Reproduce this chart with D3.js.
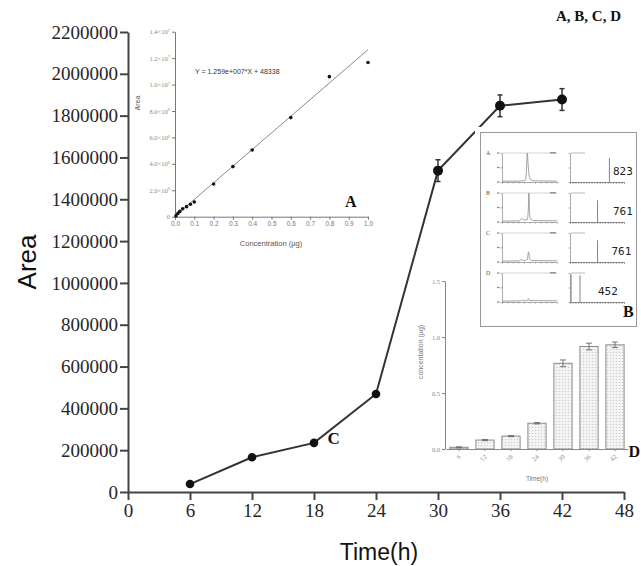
<!DOCTYPE html>
<html>
<head>
<meta charset="utf-8">
<script src="https://cdn.jsdelivr.net/npm/d3@7/dist/d3.min.js"></script>
<style>
  html, body { margin: 0; padding: 0; background: #fff; }
  svg { display: block; }
</style>
</head>
<body>
<div id="chart"></div>
<script>
d3.selection.prototype.attrs = function (map) {
  for (let key in map) this.attr(key, map[key])
  return this
}

// Main series: peak area over time

let hours = [6, 12, 18, 24, 30, 36, 42]
let areaValues = [38000, 166000, 235000, 469000, 1537000, 1847000, 1877000]
let areaErrors = [0, 0, 0, 0, 52000, 52000, 52000]
let areaTicks = [0, 200000, 400000, 600000, 800000, 1000000, 1200000, 1400000, 1600000, 1800000, 2000000, 2200000]
let hourTicks = [0, 6, 12, 18, 24, 30, 36, 42, 48]

// Inset A: standard curve

let stdConc = [0.005, 0.015, 0.025, 0.04, 0.06, 0.08, 0.1, 0.2, 0.3, 0.4, 0.6, 0.8, 1.0]
let stdArea = [60000, 250000, 400000, 600000, 760000, 940000, 1110000, 2480000, 3790000, 5050000, 7500000, 10600000, 11670000]
let fitSlope = 1.259e7
let fitIntercept = 48338
let stdAreaTicks = [0, 2e6, 4e6, 6e6, 8e6, 1e7, 1.2e7, 1.4e7]
let stdAreaTickLabels = [[`0`, ``], [`2.0×10`, `6`], [`4.0×10`, `6`], [`6.0×10`, `6`], [`8.0×10`, `6`], [`1.0×10`, `7`], [`1.2×10`, `7`], [`1.4×10`, `7`]]
let stdConcTicks = [0, 0.1, 0.2, 0.3, 0.4, 0.5, 0.6, 0.7, 0.8, 0.9, 1.0]

// Inset B: chromatograms and mass spectra

let msRows = [`A`, `B`, `C`, `D`]
let msIons = [`823`, `761`, `761`, `452`]
let chromTraces = [
  [[0, 3], [3, 3], [4.2, 5], [4.45, 40], [4.6, 100], [4.75, 60], [4.95, 20], [5.3, 7], [6, 4], [10, 3]],
  [[0, 3], [3.2, 4], [3.6, 12], [3.9, 7], [4.6, 8], [4.78, 40], [4.88, 100], [5.0, 40], [5.2, 10], [5.8, 5], [10, 4]],
  [[0, 3], [3.2, 4], [3.6, 9], [3.9, 5], [4.6, 8], [4.82, 35], [5.0, 15], [5.3, 5], [10, 4]],
  [[0, 3], [3.3, 4], [3.7, 6], [4.0, 4], [4.6, 5], [4.8, 12], [5.0, 5], [10, 4]],
]
let msPeaks = [
  [[73, 83]],
  [[51, 75]],
  [[51, 75]],
  [[2, 95], [18.5, 92]],
]

// Inset D: concentration bars

let barHours = [`6`, `12`, `18`, `24`, `30`, `36`, `42`]
let barValues = [0.015, 0.08, 0.115, 0.23, 0.765, 0.915, 0.93]
let barErrors = [0.004, 0.005, 0.005, 0.006, 0.03, 0.03, 0.025]
let concTicks = [0, 0.5, 1.0, 1.5]

// Colour and type

let ink = `#262626`
let serif = `"Liberation Serif", "Times New Roman", serif`
let sans = `"Liberation Sans", Arial, sans-serif`

let width = 641
let height = 566

let svg = d3.select(`#chart`)
  .append(`svg`)
  .attrs({ width, height })

let defs = svg.append(`defs`)
let pattern = defs.append(`pattern`)
  .attrs({ id: `dots`, width: 3, height: 3, patternUnits: `userSpaceOnUse` })
pattern.append(`rect`).attrs({ width: 3, height: 3, fill: `#f3f3f3` })
pattern.append(`circle`).attrs({ cx: 1.5, cy: 1.5, r: 0.6, fill: `#c4c4c4` })

let styleAxis = (g, { stroke, strokeWidth, font, size, fill }) => {
  g.select(`.domain`).attrs({ stroke, 'stroke-width': strokeWidth })
  g.selectAll(`.tick line`).attrs({ stroke, 'stroke-width': strokeWidth })
  g.selectAll(`.tick text`).attrs({ 'font-family': font, 'font-size': size, fill })
}

// Main chart scales

let x = d3.scaleLinear().domain([0, 48]).range([128, 624])
let y = d3.scaleLinear().domain([0, 2200000]).range([492, 32])

// yAxis

svg.append(`g`)
  .attr(`transform`, `translate(${x(0)},0)`)
  .call(d3.axisLeft(y).tickValues(areaTicks).tickFormat(d3.format(`d`)).tickSize(8).tickSizeOuter(0).tickPadding(2))
  .call(styleAxis, { stroke: `#444`, strokeWidth: 2, font: serif, size: 19, fill: ink })

// xAxis

svg.append(`g`)
  .attr(`transform`, `translate(0,${y(0)})`)
  .call(d3.axisBottom(x).tickValues(hourTicks).tickSize(8).tickSizeOuter(0).tickPadding(4))
  .call(styleAxis, { stroke: `#444`, strokeWidth: 2, font: serif, size: 19, fill: ink })

svg.append(`text`)
  .attrs({
    transform: `translate(27,262) rotate(-90)`,
    'text-anchor': `middle`,
    'dominant-baseline': `central`,
    'font-family': sans,
    'font-size': 26,
    fill: `#111`,
  })
  .text(`Area`)

svg.append(`text`)
  .attrs({
    x: 379,
    y: 552,
    'text-anchor': `middle`,
    'dominant-baseline': `central`,
    'font-family': sans,
    'font-size': 23,
    fill: `#111`,
  })
  .text(`Time(h)`)

// Main line

let mainLine = d3.line()
  .x((d, i) => x(hours[i]))
  .y(d => y(d))

svg.append(`path`)
  .datum(areaValues)
  .attrs({ d: mainLine, fill: `none`, stroke: `#333`, 'stroke-width': 2 })

// Error bars

areaValues.forEach((v, i) => {
  if (!areaErrors[i]) return
  let cx = x(hours[i])
  let g = svg.append(`g`).attrs({ stroke: `#333`, 'stroke-width': 1.5 })
  g.append(`line`).attrs({ x1: cx, x2: cx, y1: y(v - areaErrors[i]), y2: y(v + areaErrors[i]) })
  ;[v - areaErrors[i], v + areaErrors[i]].forEach(e => {
    g.append(`line`).attrs({ x1: cx - 2.5, x2: cx + 2.5, y1: y(e), y2: y(e) })
  })
})

svg.append(`g`)
  .selectAll(`circle`)
  .data(areaValues)
  .join(`circle`)
  .attrs({
    cx: (d, i) => x(hours[i]),
    cy: d => y(d),
    r: (d, i) => areaErrors[i] ? 5 : 4.3,
    fill: `#111`,
  })

// Inset A: standard curve

let ax = d3.scaleLinear().domain([0, 1]).range([175, 368])
let ay = d3.scaleLinear().domain([0, 1.4e7]).range([216.7, 31.7])

let insetA = svg.append(`g`)

insetA.append(`g`)
  .attr(`transform`, `translate(${ax(0)},0)`)
  .call(d3.axisLeft(ay).tickValues(stdAreaTicks).tickSize(3).tickSizeOuter(0).tickPadding(2))
  .call(styleAxis, { stroke: `#777`, strokeWidth: 1, font: serif, size: 6.5, fill: `#888` })
  .call(g => g.selectAll(`.tick text`).each(function (d, i) {
    let t = d3.select(this).text(``)
    t.append(`tspan`).text(stdAreaTickLabels[i][0])
    if (stdAreaTickLabels[i][1]) {
      t.append(`tspan`).attrs({ dy: -2.5, 'font-size': 4.5 }).text(stdAreaTickLabels[i][1])
    }
  }))

insetA.append(`g`)
  .attr(`transform`, `translate(0,${ay(0)})`)
  .call(d3.axisBottom(ax).tickValues(stdConcTicks).tickFormat(d3.format(`.1f`)).tickSize(3).tickSizeOuter(0).tickPadding(2))
  .call(styleAxis, { stroke: `#777`, strokeWidth: 1, font: sans, size: 6.5, fill: `#777` })

insetA.append(`line`)
  .attrs({
    x1: ax(0),
    y1: ay(fitIntercept),
    x2: ax(1),
    y2: ay(fitSlope + fitIntercept),
    stroke: `#8a8a8a`,
    'stroke-width': 1,
  })

insetA.append(`g`)
  .selectAll(`circle`)
  .data(stdArea)
  .join(`circle`)
  .attrs({ cx: (d, i) => ax(stdConc[i]), cy: d => ay(d), r: 1.8, fill: `#111` })

insetA.append(`text`)
  .attrs({ x: 195, y: 74, 'font-family': sans, 'font-size': 7, fill: `#333` })
  .text(`Y = 1.259e+007*X + 48338`)

insetA.append(`text`)
  .attrs({
    transform: `translate(137,103) rotate(-90)`,
    'text-anchor': `middle`,
    'dominant-baseline': `central`,
    'font-family': sans,
    'font-size': 7,
    fill: `#555`,
  })
  .text(`Area`)

insetA.append(`text`)
  .attrs({ x: 271, y: 246, 'text-anchor': `middle`, 'font-family': sans, 'font-size': 7.5, fill: `#555` })
  .text(`Concentration (μg)`)

svg.append(`text`)
  .attrs({ x: 345, y: 207, 'font-family': serif, 'font-weight': `bold`, 'font-size': 16, fill: `#111` })
  .text(`A`)

// Inset B: LC-MS panels

svg.append(`rect`)
  .attrs({ x: 475, y: 127, width: 170, height: 206, fill: `#fff` })

svg.append(`rect`)
  .attrs({ x: 480.5, y: 132.5, width: 156, height: 194, fill: `#fff`, stroke: `#999`, 'stroke-width': 1 })

let rowY = d3.scalePoint().domain(msRows).range([152, 272])

msRows.forEach((row, i) => {
  let top = rowY(row)
  let g = svg.append(`g`)

  g.append(`text`)
    .attrs({ x: 486, y: top + 3, 'font-family': serif, 'font-size': 6, fill: `#555` })
    .text(row)

  // chromatogram
  let cx = d3.scaleLinear().domain([0, 10]).range([502, 557])
  let cy = d3.scaleLinear().domain([0, 100]).range([top + 30, top + 1])

  g.append(`g`)
    .attr(`transform`, `translate(0,${top + 30})`)
    .call(d3.axisBottom(cx).ticks(10).tickSize(1.5).tickSizeOuter(0).tickFormat(``))
    .call(styleAxis, { stroke: `#888`, strokeWidth: 0.7, font: sans, size: 3, fill: `#888` })

  g.append(`g`)
    .attr(`transform`, `translate(${cx(0)},0)`)
    .call(d3.axisLeft(cy).tickValues([0, 50, 100]).tickSize(1.5).tickSizeOuter(0).tickFormat(``))
    .call(styleAxis, { stroke: `#888`, strokeWidth: 0.7, font: sans, size: 3, fill: `#888` })

  g.append(`line`)
    .attrs({ x1: cx(0), x2: cx(10), y1: cy(100), y2: cy(100), stroke: `#bbb`, 'stroke-width': 0.6 })

  g.append(`g`)
    .selectAll(`rect`)
    .data([0, 50, 100])
    .join(`rect`)
    .attrs({ x: cx(0) - 5, y: d => cy(d) - 0.6, width: 2.5, height: 1.2, fill: `#888` })

  g.append(`rect`)
    .attrs({ x: cx(10) - 7, y: cy(100) - 1, width: 6, height: 1.6, fill: `#999` })

  g.append(`path`)
    .datum(chromTraces[i])
    .attrs({
      d: d3.line().x(d => cx(d[0])).y(d => cy(d[1])).curve(d3.curveMonotoneX),
      fill: `none`,
      stroke: `#888`,
      'stroke-width': 0.8,
    })

  // mass spectrum
  let mx = d3.scaleLinear().domain([0, 100]).range([570, 624])
  let my = d3.scaleLinear().domain([0, 100]).range([top + 30, top + 1])

  g.append(`g`)
    .attr(`transform`, `translate(0,${top + 30})`)
    .call(d3.axisBottom(mx).ticks(18).tickSize(1.8).tickSizeOuter(0).tickFormat(``))
    .call(styleAxis, { stroke: `#777`, strokeWidth: 0.8, font: sans, size: 3, fill: `#888` })

  g.append(`g`)
    .attr(`transform`, `translate(${mx(0)},0)`)
    .call(d3.axisLeft(my).tickValues([0, 50, 100]).tickSize(1.5).tickSizeOuter(0).tickFormat(``))
    .call(styleAxis, { stroke: `#888`, strokeWidth: 0.7, font: sans, size: 3, fill: `#888` })

  g.append(`rect`)
    .attrs({ x: mx(0) + 1, y: my(100) - 0.5, width: 14, height: 1, fill: `#bbb` })

  g.append(`g`)
    .selectAll(`line`)
    .data(msPeaks[i])
    .join(`line`)
    .attrs({
      x1: d => mx(d[0]),
      x2: d => mx(d[0]),
      y1: my(0),
      y2: d => my(d[1]),
      stroke: `#777`,
      'stroke-width': 0.9,
    })

  g.append(`text`)
    .attrs({
      x: i === 3 ? 598 : i === 2 ? 611.5 : 613,
      y: i === 3 ? 294.5 : top + 23,
      'font-family': `"DejaVu Sans Mono", monospace`,
      'font-size': 11,
      fill: `#222`,
    })
    .text(msIons[i])
})

svg.append(`text`)
  .attrs({ x: 623, y: 317, 'font-family': serif, 'font-weight': `bold`, 'font-size': 16, fill: `#111` })
  .text(`B`)

// Inset D: concentration bars

let bx = d3.scaleBand().domain(barHours).range([446, 628]).paddingInner(0.3).paddingOuter(0.15)
let by = d3.scaleLinear().domain([0, 1.5]).range([449, 281])

let insetD = svg.append(`g`)

insetD.append(`g`)
  .selectAll(`rect`)
  .data(barValues)
  .join(`rect`)
  .attrs({
    x: (d, i) => bx(barHours[i]),
    y: d => by(d),
    width: bx.bandwidth(),
    height: d => by(0) - by(d),
    fill: `url(#dots)`,
    stroke: `#8a8a8a`,
    'stroke-width': 1,
  })

barValues.forEach((v, i) => {
  let cx = bx(barHours[i]) + bx.bandwidth() / 2
  let g = insetD.append(`g`).attrs({ stroke: `#666`, 'stroke-width': 0.9 })
  g.append(`line`).attrs({ x1: cx, x2: cx, y1: by(v - barErrors[i]), y2: by(v + barErrors[i]) })
  ;[v - barErrors[i], v + barErrors[i]].forEach(e => {
    g.append(`line`).attrs({ x1: cx - 3, x2: cx + 3, y1: by(e), y2: by(e) })
  })
})

insetD.append(`g`)
  .attr(`transform`, `translate(445,0)`)
  .call(d3.axisLeft(by).tickValues(concTicks).tickFormat(d3.format(`.1f`)).tickSize(3).tickSizeOuter(0).tickPadding(2))
  .call(styleAxis, { stroke: `#888`, strokeWidth: 1, font: serif, size: 6.5, fill: `#888` })

insetD.append(`g`)
  .attr(`transform`, `translate(0,${by(0)})`)
  .call(d3.axisBottom(bx).tickSize(2).tickSizeOuter(0).tickPadding(2))
  .call(styleAxis, { stroke: `#888`, strokeWidth: 1, font: serif, size: 6.5, fill: `#888` })
  .call(g => g.selectAll(`.tick text`).attrs({ transform: `translate(-2,4) rotate(-45)`, 'text-anchor': `end`, dy: `0.3em` }))

insetD.append(`text`)
  .attrs({
    transform: `translate(420,352) rotate(-90)`,
    'text-anchor': `middle`,
    'dominant-baseline': `central`,
    'font-family': sans,
    'font-size': 7,
    fill: `#777`,
  })
  .text(`concentation (μg)`)

insetD.append(`text`)
  .attrs({ x: 537, y: 481, 'text-anchor': `middle`, 'font-family': sans, 'font-size': 6.5, fill: `#777` })
  .text(`Time(h)`)

svg.append(`text`)
  .attrs({ x: 628.5, y: 457, 'font-family': serif, 'font-weight': `bold`, 'font-size': 16, fill: `#111` })
  .text(`D`)

svg.append(`text`)
  .attrs({ x: 327.5, y: 444, 'font-family': serif, 'font-weight': `bold`, 'font-size': 17, fill: `#111` })
  .text(`C`)

svg.append(`text`)
  .attrs({ x: 556, y: 21, 'font-family': serif, 'font-weight': `bold`, 'font-size': 15, fill: `#111` })
  .text(`A, B, C, D`)
</script>
</body>
</html>
